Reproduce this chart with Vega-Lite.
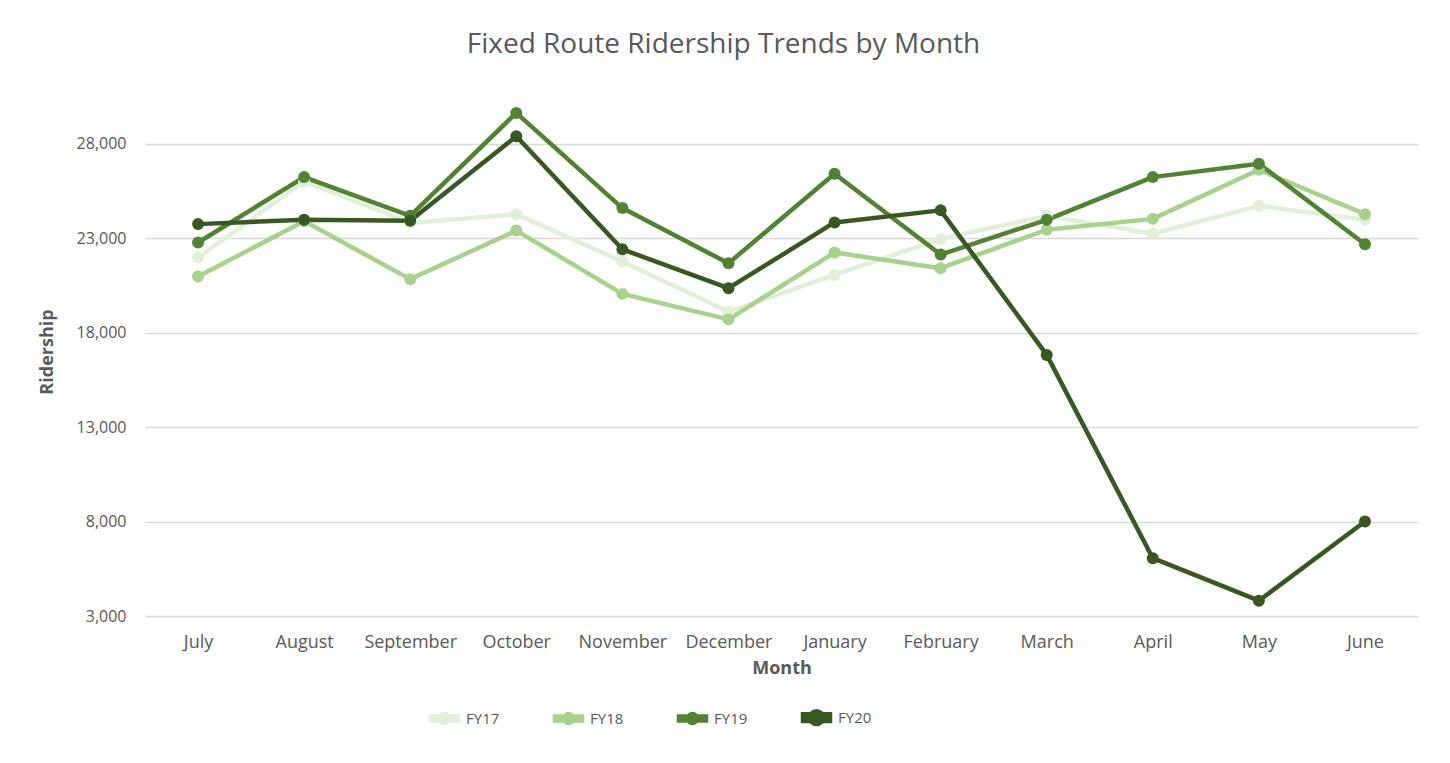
{
  "$schema": "https://vega.github.io/schema/vega-lite/v6.json",
  "autosize": {"type": "none"},
  "width": 1273,
  "height": 529,
  "padding": {"left": 145, "top": 87, "right": 32, "bottom": 147},
  "background": "white",
  "title": {
    "text": "Fixed Route Ridership Trends by Month",
    "font": "Open Sans",
    "fontSize": 28,
    "fontWeight": "normal",
    "color": "#595959",
    "anchor": "middle",
    "dx": -58,
    "offset": 28
  },
  "config": {
    "view": {"stroke": null},
    "font": "Open Sans"
  },
  "data": {
    "values": [
      {"Month": "July", "Year": "FY17", "Ridership": 21970},
      {"Month": "August", "Year": "FY17", "Ridership": 26000},
      {"Month": "September", "Year": "FY17", "Ridership": 23800},
      {"Month": "October", "Year": "FY17", "Ridership": 24270},
      {"Month": "November", "Year": "FY17", "Ridership": 21760},
      {"Month": "December", "Year": "FY17", "Ridership": 19110},
      {"Month": "January", "Year": "FY17", "Ridership": 21050},
      {"Month": "February", "Year": "FY17", "Ridership": 22960},
      {"Month": "March", "Year": "FY17", "Ridership": 24180},
      {"Month": "April", "Year": "FY17", "Ridership": 23230},
      {"Month": "May", "Year": "FY17", "Ridership": 24710},
      {"Month": "June", "Year": "FY17", "Ridership": 23970},
      {"Month": "July", "Year": "FY18", "Ridership": 20965},
      {"Month": "August", "Year": "FY18", "Ridership": 23900},
      {"Month": "September", "Year": "FY18", "Ridership": 20830},
      {"Month": "October", "Year": "FY18", "Ridership": 23400},
      {"Month": "November", "Year": "FY18", "Ridership": 20050},
      {"Month": "December", "Year": "FY18", "Ridership": 18700},
      {"Month": "January", "Year": "FY18", "Ridership": 22240},
      {"Month": "February", "Year": "FY18", "Ridership": 21410},
      {"Month": "March", "Year": "FY18", "Ridership": 23440},
      {"Month": "April", "Year": "FY18", "Ridership": 24020},
      {"Month": "May", "Year": "FY18", "Ridership": 26620},
      {"Month": "June", "Year": "FY18", "Ridership": 24270},
      {"Month": "July", "Year": "FY19", "Ridership": 22770},
      {"Month": "August", "Year": "FY19", "Ridership": 26230},
      {"Month": "September", "Year": "FY19", "Ridership": 24180},
      {"Month": "October", "Year": "FY19", "Ridership": 29630},
      {"Month": "November", "Year": "FY19", "Ridership": 24590},
      {"Month": "December", "Year": "FY19", "Ridership": 21670},
      {"Month": "January", "Year": "FY19", "Ridership": 26410},
      {"Month": "February", "Year": "FY19", "Ridership": 22130},
      {"Month": "March", "Year": "FY19", "Ridership": 23970},
      {"Month": "April", "Year": "FY19", "Ridership": 26230},
      {"Month": "May", "Year": "FY19", "Ridership": 26940},
      {"Month": "June", "Year": "FY19", "Ridership": 22680},
      {"Month": "July", "Year": "FY20", "Ridership": 23742},
      {"Month": "August", "Year": "FY20", "Ridership": 23970},
      {"Month": "September", "Year": "FY20", "Ridership": 23920},
      {"Month": "October", "Year": "FY20", "Ridership": 28390},
      {"Month": "November", "Year": "FY20", "Ridership": 22410},
      {"Month": "December", "Year": "FY20", "Ridership": 20350},
      {"Month": "January", "Year": "FY20", "Ridership": 23830},
      {"Month": "February", "Year": "FY20", "Ridership": 24470},
      {"Month": "March", "Year": "FY20", "Ridership": 16820},
      {"Month": "April", "Year": "FY20", "Ridership": 6060},
      {"Month": "May", "Year": "FY20", "Ridership": 3810},
      {"Month": "June", "Year": "FY20", "Ridership": 8000}
    ]
  },
  "encoding": {
    "x": {
      "field": "Month",
      "type": "nominal",
      "sort": ["July", "August", "September", "October", "November", "December", "January", "February", "March", "April", "May", "June"],
      "scale": {"type": "point", "padding": 0.5},
      "axis": {
        "title": "Month",
        "titleFont": "Open Sans",
        "titleFontSize": 18,
        "titleFontWeight": "bold",
        "titleColor": "#595959",
        "titlePadding": 8,
        "labelFont": "Open Sans",
        "labelFontSize": 18,
        "labelColor": "#595959",
        "labelAngle": 0,
        "labelPadding": 17,
        "ticks": false,
        "domain": false,
        "grid": false
      }
    },
    "y": {
      "field": "Ridership",
      "type": "quantitative",
      "scale": {"domain": [3000, 31000], "nice": false, "zero": false},
      "axis": {
        "title": "Ridership",
        "titleFont": "Open Sans",
        "titleFontSize": 18,
        "titleFontWeight": "bold",
        "titleColor": "#595959",
        "titlePadding": 20,
        "labelFont": "Open Sans",
        "labelFontSize": 16,
        "labelColor": "#595959",
        "labelPadding": 19,
        "values": [3000, 8000, 13000, 18000, 23000, 28000],
        "format": ",d",
        "ticks": false,
        "domain": false,
        "grid": true,
        "gridColor": "#d9d9d9",
        "gridWidth": 1.5
      }
    },
    "color": {
      "field": "Year",
      "type": "nominal",
      "scale": {"domain": ["FY17", "FY18", "FY19", "FY20"], "range": ["#e2f0d9", "#a9d18e", "#548235", "#385723"]},
      "legend": {
        "orient": "none",
        "legendX": 291,
        "legendY": 622,
        "direction": "horizontal",
        "title": null,
        "labelFont": "Open Sans",
        "labelFontSize": 15,
        "labelColor": "#595959",
        "labelOffset": 13,
        "columnPadding": 46,
        "symbolStrokeWidth": 0,
        "symbolOpacity": 1,
        "encode": {
          "symbols": {
            "update": {
              "shape": {"signal": "datum.value === 'FY20' ? 'M-2.25,-0.55L2.25,-0.55L2.25,0.55L-2.25,0.55Z M-1.05,0A1.05,1.05 0 1,1 1.05,0A1.05,1.05 0 1,1 -1.05,0Z' : 'M-2.25,-0.32L2.25,-0.32L2.25,0.32L-2.25,0.32Z M-0.75,0A0.75,0.75 0 1,1 0.75,0A0.75,0.75 0 1,1 -0.75,0Z'"},
              "fill": {"scale": "color", "field": "value"},
              "fillOpacity": {"value": 1},
              "strokeWidth": {"value": 0}
            }
          }
        }
      }
    }
  },
  "layer": [
    {
      "mark": {"type": "line", "strokeCap": "round", "strokeJoin": "round"},
      "encoding": {
        "strokeWidth": {
          "field": "Year",
          "type": "nominal",
          "scale": {"domain": ["FY17", "FY18", "FY19", "FY20"], "range": [4.5, 4.5, 4.5, 7.5]},
          "legend": null
        }
      }
    },
    {
      "mark": {"type": "point", "filled": true, "opacity": 1},
      "encoding": {
        "size": {
          "field": "Year",
          "type": "nominal",
          "scale": {"domain": ["FY17", "FY18", "FY19", "FY20"], "range": [144, 144, 144, 256]},
          "legend": null
        }
      }
    }
  ]
}
